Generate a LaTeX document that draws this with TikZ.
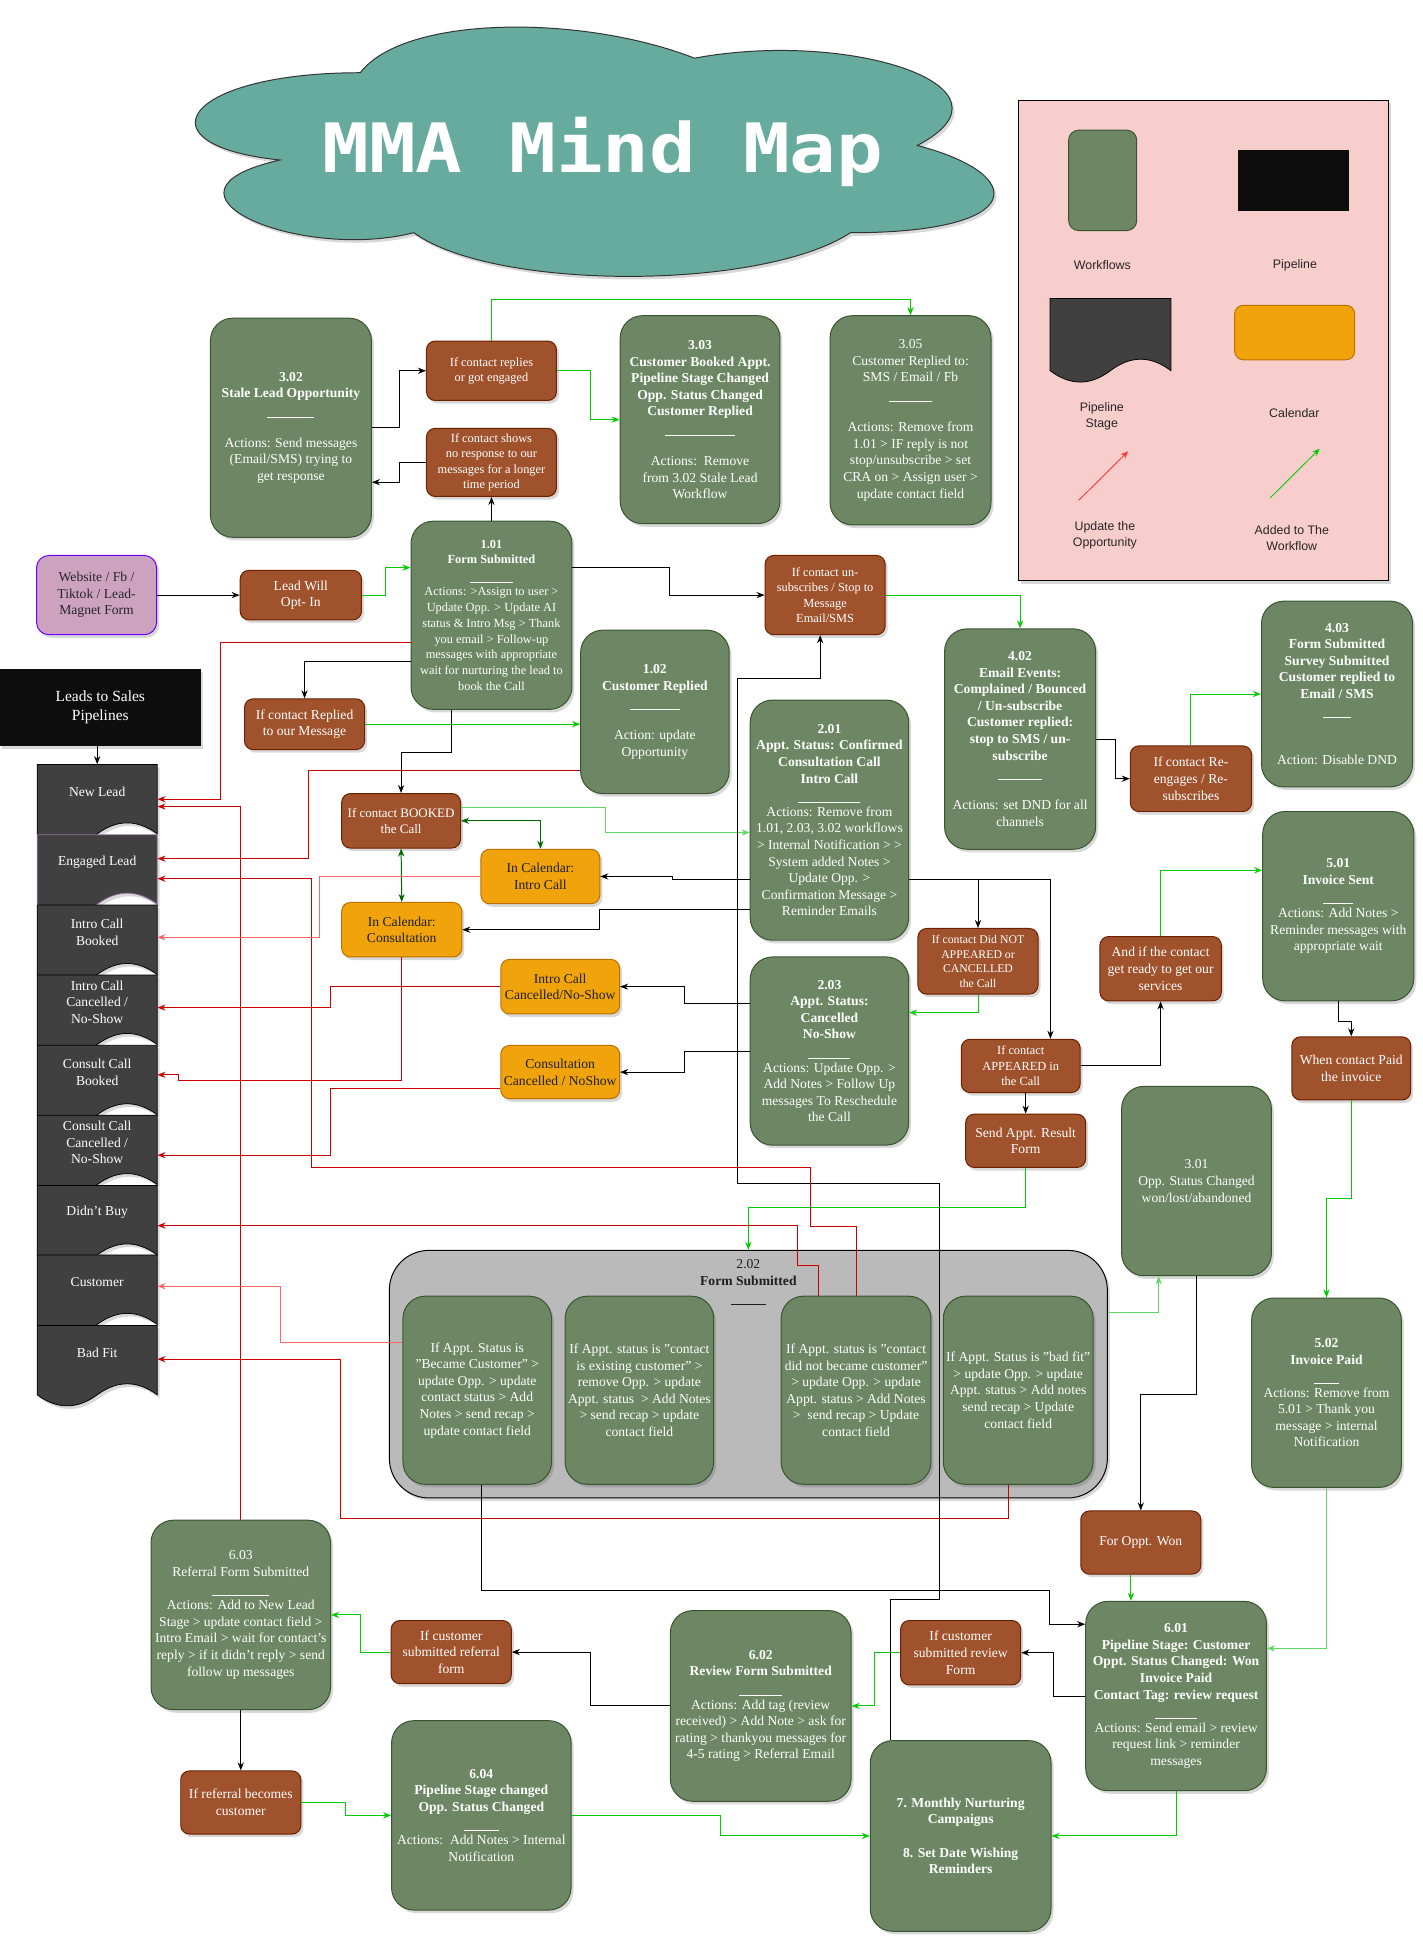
\documentclass[tikz,border=0pt]{standalone}
\usepackage{fontspec}
\setmainfont{Liberation Serif}
\newfontfamily\legendfont{Liberation Sans}
\newfontfamily\titlefont{DejaVu Sans Mono}[FakeStretch=1.14]
\usepackage{tikz}
\usetikzlibrary{arrows.meta,shadows}

\definecolor{wffill}{HTML}{6D8764}
\definecolor{wfline}{HTML}{3A5431}
\definecolor{brfill}{HTML}{A0522D}
\definecolor{brline}{HTML}{6D1F00}
\definecolor{orfill}{HTML}{F0A30A}
\definecolor{orline}{HTML}{BD7000}
\definecolor{webfill}{HTML}{CDA2BE}
\definecolor{webline}{HTML}{6A00FF}
\definecolor{pipefill}{HTML}{0D0D0D}
\definecolor{stagefill}{HTML}{404040}
\definecolor{stageline}{HTML}{9673A6}
\definecolor{grpfill}{HTML}{BABABA}
\definecolor{legfill}{HTML}{F8CECC}
\definecolor{cloudfill}{HTML}{67AB9F}
\definecolor{cloudline}{HTML}{333333}
\definecolor{linered}{HTML}{CC0000}
\definecolor{lightred}{HTML}{FF6666}
\definecolor{linegreen}{HTML}{00CC00}
\definecolor{lightgreen}{HTML}{5EDB5E}
\definecolor{darkgreen}{HTML}{006600}
\definecolor{legred}{HTML}{FF3333}

\newcommand{\sepline}[1]{\rule[-2.5pt]{#1pt}{0.6pt}}
\newcommand{\mmfont}{\fontsize{11}{13.4}\selectfont}
\newcommand{\mmsmall}{\fontsize{10}{12.4}\selectfont}
\newcommand{\mmtiny}{\fontsize{9.5}{11.7}\selectfont}
\newcommand{\stagedoc}[4]{%
  \path[stageshape, draw=#4] (30,#2) -- (127,#2) -- (127,#2+56.1) .. controls (110.83,#2+44.22) and (94.67,#2+44.22) .. (78.5,#2+56.1) .. controls (62.33,#2+67.98) and (46.17,#2+67.98) .. (30,#2+56.1) -- cycle;
  \path (78.5,#2+22) node[stagebox] (#1) {#3};}

\tikzset{
  softshadow/.style={drop shadow={shadow xshift=2pt,shadow yshift=-2.5pt,opacity=0.22,fill=black!70}},
  basebox/.style 2 args={rectangle, minimum width=#1pt, minimum height=#2pt, inner sep=1pt, align=center, line width=0.8pt, softshadow},
  wfbox/.style 2 args={basebox={#1}{#2}, rounded corners=18pt, draw=wfline, fill=wffill, text=white, font=\mmfont},
  ifbox/.style 2 args={basebox={#1}{#2}, rounded corners=7pt, draw=brline, fill=brfill, text=white, font=\mmfont},
  calbox/.style 2 args={basebox={#1}{#2}, rounded corners=7pt, draw=orline, fill=orfill, text=black!88, font=\mmfont},
  stagebox/.style={rectangle, minimum width=97pt, minimum height=44pt, inner sep=1pt, align=center, text=white, font=\mmfont},
  stageshape/.style={fill=stagefill, line width=0.6pt, softshadow},
  legtext/.style={align=center, text=black!85, font={\legendfont\fontsize{10}{13}\selectfont}},
  conn/.style={line width=0.8pt, -{Stealth[length=6.5pt,width=5pt]}},
  blk/.style={conn, draw=black},
  grn/.style={conn, draw=linegreen},
  lgrn/.style={conn, draw=lightgreen},
  dgrn/.style={line width=0.8pt, draw=darkgreen, {Stealth[length=6.5pt,width=5pt]}-{Stealth[length=6.5pt,width=5pt]}},
  redl/.style={conn, draw=linered},
  lredl/.style={conn, draw=lightred}
}

\begin{document}
\begin{tikzpicture}[x=1pt,y=-1pt]
\useasboundingbox (0,0) rectangle (1149.4,1568.7);

\begin{scope}[shift={(111,0)},x=720pt,y=-235pt]
\path[draw=cloudline, fill=cloudfill, line width=0.8pt, softshadow] (0.25,0.25) .. controls (0.05,0.25) and (0,0.5) .. (0.16,0.55) .. controls (0,0.66) and (0.18,0.9) .. (0.31,0.8) .. controls (0.4,1) and (0.7,1) .. (0.8,0.8) .. controls (1,0.8) and (1,0.6) .. (0.875,0.5) .. controls (1,0.3) and (0.8,0.1) .. (0.625,0.2) .. controls (0.5,0.05) and (0.3,0.05) .. (0.25,0.25) -- cycle;
\end{scope}
\path (487,139.5) node[anchor=base, text=white, font={\titlefont\bfseries\fontsize{55}{55}\selectfont}] (title) {MMA Mind Map};

\path (972.2,274.9) node[basebox={299}{388}, draw=black, fill=legfill] (legend) {};
\path (890.7,145.7) node[rectangle, rounded corners=8pt, draw=wfline, fill=wffill, line width=0.8pt, minimum width=55pt, minimum height=81pt] (lgwf) {};
\path (1045,145.8) node[rectangle, fill=pipefill, minimum width=90pt, minimum height=49pt] (lgpipe) {};
\path[fill=stagefill, draw=black, line width=0.6pt] (848.2,241.2) -- (945.8,241.2) -- (945.8,299.4) .. controls (929.5,287.1) and (913.3,287.1) .. (897,299.4) .. controls (880.7,311.7) and (864.5,311.7) .. (848.2,299.4) -- cycle;
\path (1045.8,268.6) node[rectangle, rounded corners=7pt, draw=orline, fill=orfill, line width=0.8pt, minimum width=97pt, minimum height=44pt] (lgcal) {};
\path (890.5,214.5) node[legtext] (lgwft) {Workflows};
\path (1046,214.5) node[legtext] (lgpipet) {Pipeline};
\path (890,336) node[legtext] (lgstaget) {Pipeline\\Stage};
\path (1045.5,333.3) node[legtext] (lgcalt) {Calendar};
\path (892.5,432.5) node[legtext] (lgupt) {Update the\\Opportunity};
\path (1043.5,434.5) node[legtext] (lgaddt) {Added to The\\Workflow};
\coordinate (lgup0) at (871.3,404.2);
\coordinate (lgup1) at (911.2,364.6);
\coordinate (lgadd0) at (1026.1,402.1);
\coordinate (lgadd1) at (1066,362.5);
\draw[line width=0.7pt, draw=legred, -{Stealth[length=6pt,width=5pt]}] (lgup0) -- (lgup1);
\draw[line width=0.7pt, draw=linegreen, -{Stealth[length=6pt,width=5pt]}] (lgadd0) -- (lgadd1);

\path (81,571.4) node[basebox={162}{62}, fill=pipefill, text=white, font={\fontsize{12.5}{15.5}\selectfont}] (leads) {Leads to Sales\\Pipelines};
\stagedoc{s1}{617.5}{New Lead}{black}
\stagedoc{s2}{674.3}{Engaged Lead}{stageline}
\stagedoc{s3}{731.1}{Intro Call\\Booked}{black}
\stagedoc{s4}{787.6}{Intro Call\\Cancelled /\\No-Show}{black}
\stagedoc{s5}{844.4}{Consult Call\\Booked}{black}
\stagedoc{s6}{900.8}{Consult Call\\Cancelled /\\No-Show}{black}
\stagedoc{s7}{957.6}{Didn't Buy}{black}
\stagedoc{s8}{1013.7}{Customer}{black}
\stagedoc{s9}{1070.6}{Bad Fit}{black}

\path (235,345.5) node[wfbox={130}{177}] (n302) {\textbf{3.02}\\\textbf{Stale Lead Opportunity}\\\sepline{38}\\[13.4pt]Actions: Send messages\\(Email/SMS) trying to\\get response};
\path (397,299.5) node[ifbox={105}{48}, font=\mmsmall] (rep) {If contact replies\\or got engaged};
\path (397,373.5) node[ifbox={105}{55}, font={\fontsize{10}{12.3}\selectfont}] (shows) {If contact shows\\no response to our\\messages for a longer\\time period};
\path (565.5,339) node[wfbox={129}{168}] (n303) {\textbf{3.03}\\\textbf{Customer Booked Appt.}\\\textbf{Pipeline Stage Changed}\\\textbf{Opp. Status Changed}\\\textbf{Customer Replied}\\\sepline{57}\\[13.4pt]Actions:\ \ Remove\\from 3.02 Stale Lead\\Workflow};
\path (735.5,339.5) node[wfbox={130}{169}] (n305) {3.05\\Customer Replied to:\\SMS / Email / Fb\\\sepline{34}\\[13.4pt]Actions: Remove from\\1.01 > IF reply is not\\stop/unsubscribe > set\\CRA on > Assign user >\\update contact field};
\path (397,497) node[wfbox={130}{152}, font={\fontsize{10}{12.8}\selectfont}] (n101) {\textbf{1.01}\\\textbf{Form Submitted}\\\sepline{34}\\Actions: >Assign to user >\\Update Opp. > Update AI\\status \& Intro Msg > Thank\\you email > Follow-up\\messages with appropriate\\wait for nurturing the lead to\\book the Call};
\path (78,480.7) node[basebox={97}{64}, rounded corners=10pt, draw=webline, fill=webfill, text=black!85, font=\mmfont] (web) {Website / Fb /\\Tiktok / Lead-\\Magnet Form};
\path (243,480.7) node[ifbox={98}{40}] (opt) {Lead Will\\Opt- In};
\path (666.5,480.7) node[ifbox={97}{64}, font={\fontsize{10}{12.5}\selectfont}] (unsub) {If contact un-\\subscribes / Stop to\\Message\\Email/SMS};
\path (246,585) node[ifbox={97}{41}] (replied) {If contact Replied\\to our Message};
\path (529,575) node[wfbox={120}{132}] (n102) {\textbf{1.02}\\\textbf{Customer Replied}\\\sepline{40}\\[13.4pt]Action: update\\Opportunity};
\path (670,662.5) node[wfbox={128}{194}] (n201) {\textbf{2.01}\\\textbf{Appt. Status: Confirmed}\\\textbf{Consultation Call}\\\textbf{Intro Call}\\\sepline{50}\\Actions: Remove from\\1.01, 2.03, 3.02 workflows\\> Internal Notification > >\\System added Notes >\\Update Opp. >\\Confirmation Message >\\Reminder Emails};
\path (824,597) node[wfbox={122}{178}] (n402) {\textbf{4.02}\\\textbf{Email Events:}\\\textbf{Complained / Bounced}\\\textbf{/ Un-subscribe}\\\textbf{Customer replied:}\\\textbf{stop to SMS / un-}\\\textbf{subscribe}\\\sepline{35}\\[13.4pt]Actions: set DND for all\\channels};
\path (1080,560.6) node[wfbox={122}{150}] (n403) {\textbf{4.03}\\\textbf{Form Submitted}\\\textbf{Survey Submitted}\\\textbf{Customer replied to}\\\textbf{Email / SMS}\\\sepline{23}\\[26.8pt]Action: Disable DND};
\path (962,629) node[ifbox={98}{53}] (reeng) {If contact Re-\\engages / Re-\\subscribes};
\path (324,663) node[ifbox={96}{44}, font={\fontsize{10.5}{13}\selectfont}] (booked) {If contact BOOKED\\the Call};
\path (436.5,708) node[calbox={96}{44}] (calintro) {In Calendar:\\Intro Call};
\path (324.5,751) node[calbox={97}{44}] (calcons) {In Calendar:\\Consultation};
\path (790,776.5) node[ifbox={97}{53}, font=\mmtiny] (didnot) {If contact Did NOT\\APPEARED or\\CANCELLED\\the Call};
\path (1081,732) node[wfbox={122}{153}] (n501) {\textbf{5.01}\\\textbf{Invoice Sent}\\\sepline{24}\\Actions: Add Notes >\\Reminder messages with\\appropriate wait};
\path (937.5,782.5) node[ifbox={98}{52}] (andif) {And if the contact\\get ready to get our\\services};
\path (452.5,797) node[calbox={96}{44}] (icc) {Intro Call\\Cancelled/No-Show};
\path (670,849) node[wfbox={128}{152}] (n203) {\textbf{2.03}\\\textbf{Appt. Status:}\\\textbf{Cancelled}\\\textbf{No-Show}\\\sepline{34}\\Actions: Update Opp. >\\Add Notes > Follow Up\\messages To Reschedule\\the Call};
\path (452.5,866) node[calbox={96}{43}] (ccc) {Consultation\\Cancelled / NoShow};
\path (824.5,861) node[ifbox={96}{43}, font=\mmsmall] (appeared) {If contact\\APPEARED in\\the Call};
\path (1091.5,863) node[ifbox={96}{51}] (paid) {When contact Paid\\the invoice};
\path (828.5,921.5) node[ifbox={97}{43}] (sendappt) {Send Appt. Result\\Form};
\path (966.5,954) node[wfbox={121}{153}] (n301) {3.01\\Opp. Status Changed\\won/lost/abandoned};

\path (604.5,1110) node[basebox={580}{200}, rounded corners=32pt, draw=black, fill=grpfill] (grp) {};
\path (604.5,1036) node[align=center, text=black!88, font=\mmfont] (grptitle) {2.02\\\textbf{Form Submitted}\\\sepline{28}};
\path (385.5,1123) node[wfbox={120}{152}] (b1) {If Appt. Status is\\"Became Customer" >\\update Opp. > update\\contact status > Add\\Notes > send recap >\\update contact field};
\path (516.5,1123) node[wfbox={120}{152}] (b2) {If Appt. status is "contact\\is existing customer" >\\remove Opp. > update\\Appt. status\ \ > Add Notes\\> send recap > update\\contact field};
\path (691.5,1123) node[wfbox={121}{152}] (b3) {If Appt. status is "contact\\did not became customer"\\> update Opp. > update\\Appt. status > Add Notes\\>\ \ send recap > Update\\contact field};
\path (822.5,1123) node[wfbox={121}{152}] (b4) {If Appt. Status is "bad fit"\\> update Opp. > update\\Appt. status > Add notes\\send recap > Update\\contact field};
\path (1071.5,1125) node[wfbox={121}{153}] (n502) {\textbf{5.02}\\\textbf{Invoice Paid}\\\sepline{20}\\Actions: Remove from\\5.01 > Thank you\\message > internal\\Notification};
\path (921.5,1246) node[ifbox={97}{51}] (won) {For Oppt. Won};

\path (194.5,1304.5) node[wfbox={145}{153}] (n603) {6.03\\Referral Form Submitted\\\sepline{46}\\Actions: Add to New Lead\\Stage > update contact field >\\Intro Email > wait for contact's\\reply > if it didn't reply > send\\follow up messages};
\path (364.5,1334.5) node[ifbox={97}{51}] (reform) {If customer\\submitted referral\\form};
\path (614.5,1378) node[wfbox={146}{154}] (n602) {\textbf{6.02}\\\textbf{Review Form Submitted}\\\sepline{35}\\Actions: Add tag (review\\received) > Add Note > ask for\\rating > thankyou messages for\\4-5 rating > Referral Email};
\path (776,1335) node[ifbox={97}{52}] (revform) {If customer\\submitted review\\Form};
\path (950,1370) node[wfbox={146}{153}] (n601) {\textbf{6.01}\\\textbf{Pipeline Stage: Customer}\\\textbf{Oppt. Status Changed: Won}\\\textbf{Invoice Paid}\\\textbf{Contact Tag: review request}\\\sepline{34}\\Actions: Send email > review\\request link > reminder\\messages};
\path (194.5,1456) node[ifbox={97}{51}] (refcust) {If referral becomes\\customer};
\path (388.8,1466.4) node[wfbox={145}{153}] (n604) {\textbf{6.04}\\\textbf{Pipeline Stage changed}\\\textbf{Opp. Status Changed}\\\sepline{28}\\Actions:\ \ Add Notes > Internal\\Notification};
\path (776,1483) node[wfbox={146}{154}] (n78) {\textbf{7. Monthly Nurturing}\\\textbf{Campaigns}\\[13.4pt]\textbf{8. Set Date Wishing}\\\textbf{Reminders}};

\draw[blk] (s1.north |- leads.south) -- (s1.north);
\draw[blk] (web.east) -- (opt.west);
\draw[grn] (opt.east) -- ++(19,0) |- ([yshift=38.5pt]n101.west);
\draw[blk] (n302.east) -- ++(22,0) |- (rep.west);
\draw[blk] (shows.west) -- ++(-21,0) |- ([yshift=-44pt]n302.east);
\draw[blk] (n101.north) -- (shows.south);
\draw[grn] (rep.east) -- ++(27,0) |- (n303.west);
\draw[grn] (rep.north) -- ++(0,-33) -| (n305.north);
\draw[blk] ([yshift=38.5pt]n101.east) -- ++(78,0) |- (unsub.west);
\draw[blk] ([yshift=-37pt]n101.west) -| (replied.north);
\draw[grn] (replied.east) -- (replied.east -| n102.west);
\draw[blk] ([xshift=-32pt]n101.south) -- ++(0,34.5) -| (booked.north);
\draw[lgrn] ([yshift=11pt]booked.east) -- ++(116.5,0) |- ([yshift=-10pt]n201.west);
\draw[dgrn] (booked.east) -| (calintro.north);
\draw[dgrn] (booked.south) -- (calcons.north);
\draw[blk] ([yshift=-48pt]n201.west) -- ++(-62,0) |- (calintro.east);
\draw[blk] ([yshift=-72pt]n201.west) -- ++(-121.5,0) |- (calcons.east);
\draw[blk] ([yshift=38.5pt]n203.west) -- ++(-52.5,0) |- (icc.east);
\draw[blk] (n203.west) -- ++(-52.5,0) |- (ccc.east);
\draw[blk] ([yshift=-48pt]n201.east) -| (didnot.north);
\draw[blk] ([yshift=-48pt]n201.east) -| ([xshift=24pt]appeared.north);
\draw[grn] (didnot.south) |- ([yshift=31pt]n203.east);
\draw[blk] (appeared.south -| sendappt.north) -- (sendappt.north);
\draw[blk] (appeared.east) -| (andif.south);
\draw[grn] (andif.north) |- ([yshift=29pt]n501.west);
\draw[blk] (n501.south) -- ++(0,16.5) -| (paid.north);
\draw[grn] (paid.south) -- ++(0,79.5) -| (n502.north);
\draw[grn] (unsub.east) -| (n402.north);
\draw[blk] (n402.east) -- ++(16,0) |- (reeng.west);
\draw[grn] (reeng.north) |- (n403.west);
\draw[lgrn] ([yshift=50pt]grp.east) -| ([xshift=-30.5pt]n301.south);
\draw[blk] (n301.south) -- ++(0,95.5) -| (won.north);
\draw[grn] (sendappt.south) -- ++(0,32) -| (grp.north);
\draw[blk] ([xshift=3.5pt]b1.south) |- ++(459,85) |- ([yshift=58pt]n601.west);
\draw[blk] (n601.west) -- ++(-26,0) |- (revform.east);
\draw[grn] (revform.west) -- ++(-20.5,0) |- (n602.east);
\draw[blk] (n602.west) -- ++(-64,0) |- (reform.east);
\draw[grn] (reform.west) -- ++(-24.5,0) |- (n603.east);
\draw[blk] (n603.south) -- (refcust.north);
\draw[grn] (refcust.east) -- ++(36,0) |- (n604.west);
\draw[grn] (n604.east) -- ++(120.5,0) |- (n78.west);
\draw[grn] (n601.south) |- (n78.east);
\draw[grn] ([xshift=-8pt]won.south) -- ([xshift=-36.5pt]n601.north);
\draw[lgrn] (n502.south) |- ([yshift=38.5pt]n601.east);
\draw[blk] ([xshift=-56.5pt]n78.north) -- ++(0,-113.5) -- ++(39,0) -- ++(0,-336) -- ++(-162.5,0) -- ++(0,-408) -| ([xshift=-4pt]unsub.south);

\draw[redl] ([yshift=-22pt]n101.west) -- ++(-153.5,0) |- ([yshift=-6.1pt]s1.east);
\draw[redl] (n603.north) |- ([yshift=-12pt]s1.east);
\draw[redl] ([yshift=-47pt]n102.west) -- ++(-219.5,0) |- ([yshift=2.7pt]s2.east);
\draw[redl] (b3.north) -- ++(0,-56) -- ++(-37,0) -- ++(0,-47.5) -- ++(-402.5,0) |- ([yshift=-13.5pt]s2.east);
\draw[lredl] (calintro.west) -- ++(-130,0) |- ([yshift=-4pt]s3.east);
\draw[redl] (icc.west) -- ++(-137.5,0) |- ([yshift=-4.3pt]s4.east);
\draw[redl] (calcons.south) -- ++(0,99) -- ++(-180.5,0) |- ([yshift=-1.8pt]s5.east);
\draw[redl] ([yshift=-13.5pt]ccc.west) -- ++(-137.5,0) |- ([yshift=-10.3pt]s6.east);
\draw[redl] ([xshift=-30.5pt]b3.north) -- ++(0,-24) -- ++(-16.5,0) |- ([yshift=-10.4pt]s7.east);
\draw[lredl] ([yshift=38.5pt]b1.west) -- ++(-98.5,0) |- ([yshift=-3.3pt]s8.east);
\draw[redl] ([xshift=-7.5pt]b4.south) -- ++(0,27) -- ++(-540,0) |- ([yshift=-5.3pt]s9.east);
\end{tikzpicture}
\end{document}
